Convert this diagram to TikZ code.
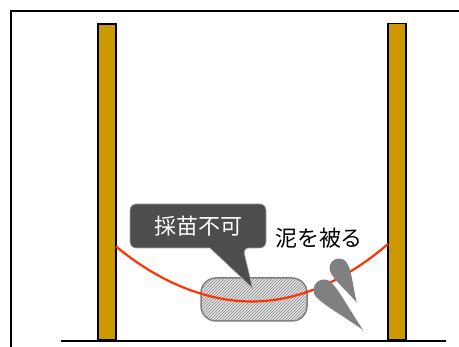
\documentclass[tikz,border=0pt]{standalone}
\usepackage{fontspec}
\newfontfamily\jpfont{Noto Sans CJK JP}
\usepackage{tikz}
\usetikzlibrary{calc, patterns, positioning}
\tikzset{>=latex}
\definecolor{postcol}{HTML}{CC9900}
\definecolor{ropecol}{HTML}{FF3300}
\definecolor{mudcol}{HTML}{808080}
\definecolor{boxcol}{HTML}{4D4D4D}

\begin{document}
\begin{tikzpicture}
[x=1pt, y=1pt,
post/.style={draw=black, line width=1.8pt, fill=postcol, minimum width=18pt, minimum height=316pt, inner sep=0pt},
rope/.style={draw=ropecol, line width=2.2pt},
seed/.style={draw=mudcol, line width=1.5pt, rounded corners=15pt, minimum width=106pt, minimum height=43pt, inner sep=0pt,
  preaction={fill=black!12}, pattern=north east lines, pattern color=black!45},
callout/.style={fill=boxcol, draw=black!35, line width=0.6pt},
label/.style={font=\jpfont\fontsize{22}{26}\selectfont, inner sep=0pt},
pics/drop/.style args={#1/#2}{code={
  \fill[mudcol] (#1,0) .. controls (0.5*#1,0.5*#2) and (1.1*#2,#2) .. (0,#2)
    arc (90:270:#2) .. controls (1.1*#2,-#2) and (0.5*#1,-0.5*#2) .. (#1,0) -- cycle;
}}]
\useasboundingbox (0,0) rectangle (459,347);

\node[post] (postL) at (107,165) {};
\node[post] (postR) at (397,165.5) {};
\coordinate (ropeL) at (116,100.5);
\coordinate (ropeR) at (388,103);
\coordinate (ground0) at (61,6);
\coordinate (ground1) at (446,6);

\node[seed] (seed) at (254,47.5) {};
\draw[rope] (ropeL) parabola bend (252,45.5) (ropeR);

% speech bubble
\draw[callout] [rounded corners=6pt] (130,143) -- (266,143) -- (266,99) -- (243,99)
  [sharp corners] -- (252.5,59) -- (210,99) [rounded corners=6pt] -- (130,99) -- cycle;
\node[label, text=white] (ng) at (198,121) {採苗不可};
\node[label, text=black] (doro) at (319,109) {泥を被る};

\pic[rotate=-62.8] at (339,79) {drop=39/9.5};
\pic[rotate=-45.7] at (324,57) {drop=56/10.5};

\draw[line width=1.8pt] (ground0) -- (ground1);
\draw[line width=1.8pt] (459,336) -| (11,0);
\end{tikzpicture}
\end{document}
